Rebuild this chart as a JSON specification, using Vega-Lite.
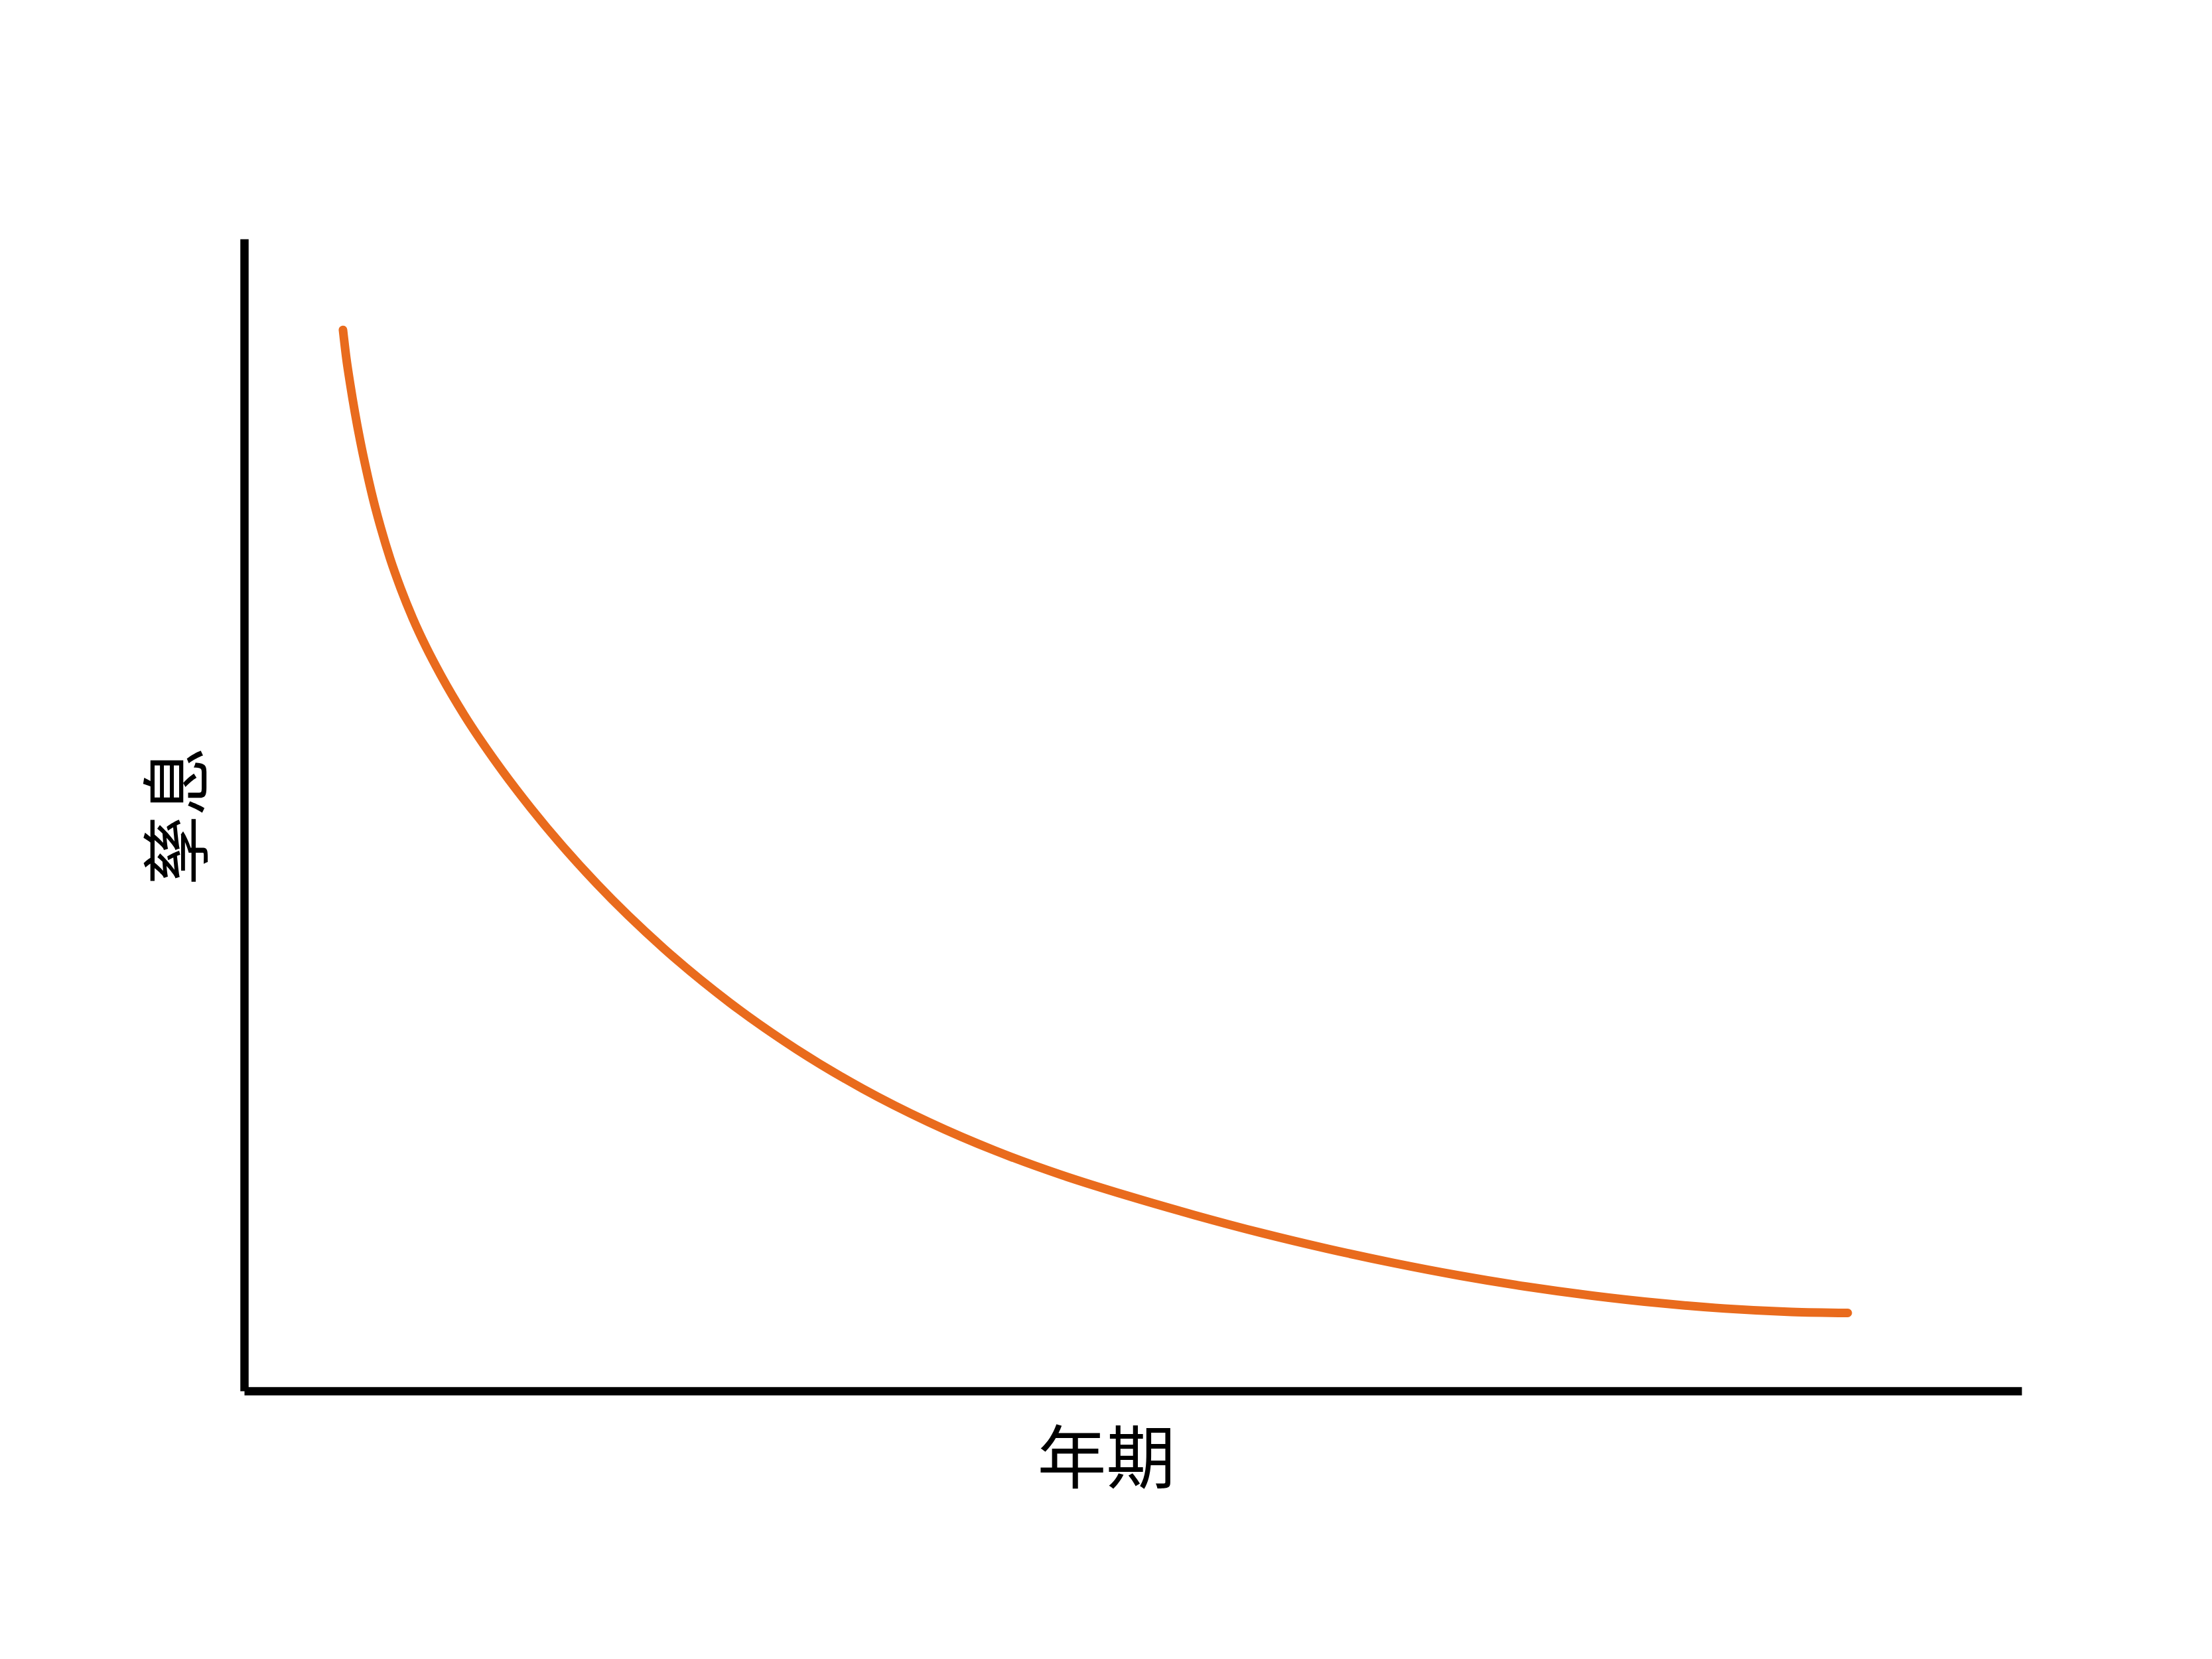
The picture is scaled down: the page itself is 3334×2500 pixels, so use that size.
{
  "$schema": "https://vega.github.io/schema/vega-lite/v6.json",
  "width": 2679,
  "height": 1736,
  "autosize": {"type": "none"},
  "padding": {"left": 368, "top": 360, "right": 287, "bottom": 404},
  "background": "white",
  "config": {"view": {"stroke": null}},
  "data": {
    "values": [
      {"term": 5.56, "yield": 92.1},
      {"term": 5.75, "yield": 89.62},
      {"term": 5.97, "yield": 87.36},
      {"term": 6.23, "yield": 84.95},
      {"term": 6.53, "yield": 82.47},
      {"term": 6.87, "yield": 79.97},
      {"term": 7.24, "yield": 77.51},
      {"term": 7.69, "yield": 74.91},
      {"term": 8.21, "yield": 72.26},
      {"term": 8.81, "yield": 69.65},
      {"term": 9.48, "yield": 67.09},
      {"term": 10.23, "yield": 64.59},
      {"term": 11.09, "yield": 62.06},
      {"term": 12.39, "yield": 58.65},
      {"term": 14.26, "yield": 54.39},
      {"term": 16.13, "yield": 50.59},
      {"term": 19.86, "yield": 43.99},
      {"term": 23.59, "yield": 38.43},
      {"term": 27.32, "yield": 33.7},
      {"term": 31.06, "yield": 29.67},
      {"term": 34.79, "yield": 26.24},
      {"term": 38.52, "yield": 23.33},
      {"term": 42.25, "yield": 20.85},
      {"term": 45.99, "yield": 18.74},
      {"term": 49.72, "yield": 16.93},
      {"term": 53.45, "yield": 15.27},
      {"term": 57.19, "yield": 13.73},
      {"term": 60.92, "yield": 12.35},
      {"term": 64.65, "yield": 11.11},
      {"term": 68.38, "yield": 10.01},
      {"term": 72.12, "yield": 9.06},
      {"term": 75.85, "yield": 8.27},
      {"term": 79.58, "yield": 7.63},
      {"term": 83.31, "yield": 7.15},
      {"term": 87.05, "yield": 6.86},
      {"term": 90.22, "yield": 6.77}
    ]
  },
  "mark": {
    "type": "line",
    "color": "#e96b1d",
    "strokeWidth": 13,
    "strokeCap": "round",
    "interpolate": "monotone"
  },
  "encoding": {
    "x": {
      "field": "term",
      "type": "quantitative",
      "scale": {"domain": [0, 100], "nice": false, "zero": false},
      "axis": {
        "title": "年期",
        "domainColor": "black",
        "domainWidth": 12.5,
        "ticks": false,
        "labels": false,
        "grid": false,
        "titleFont": "Noto Sans CJK TC",
        "titleFontSize": 104,
        "titleFontWeight": "normal",
        "titleColor": "black",
        "titleX": 1299,
        "titleY": 107,
        "titleAlign": "center",
        "titleBaseline": "middle"
      }
    },
    "y": {
      "field": "yield",
      "type": "quantitative",
      "scale": {"domain": [0, 100], "nice": false, "zero": false},
      "axis": {
        "title": "孳息",
        "domainColor": "black",
        "domainWidth": 12.5,
        "ticks": false,
        "labels": false,
        "grid": false,
        "titleFont": "Noto Sans CJK TC",
        "titleFontSize": 104,
        "titleFontWeight": "normal",
        "titleColor": "black",
        "titleAngle": -90,
        "titleX": -95,
        "titleY": 869,
        "titleAlign": "center",
        "titleBaseline": "middle"
      }
    }
  }
}
